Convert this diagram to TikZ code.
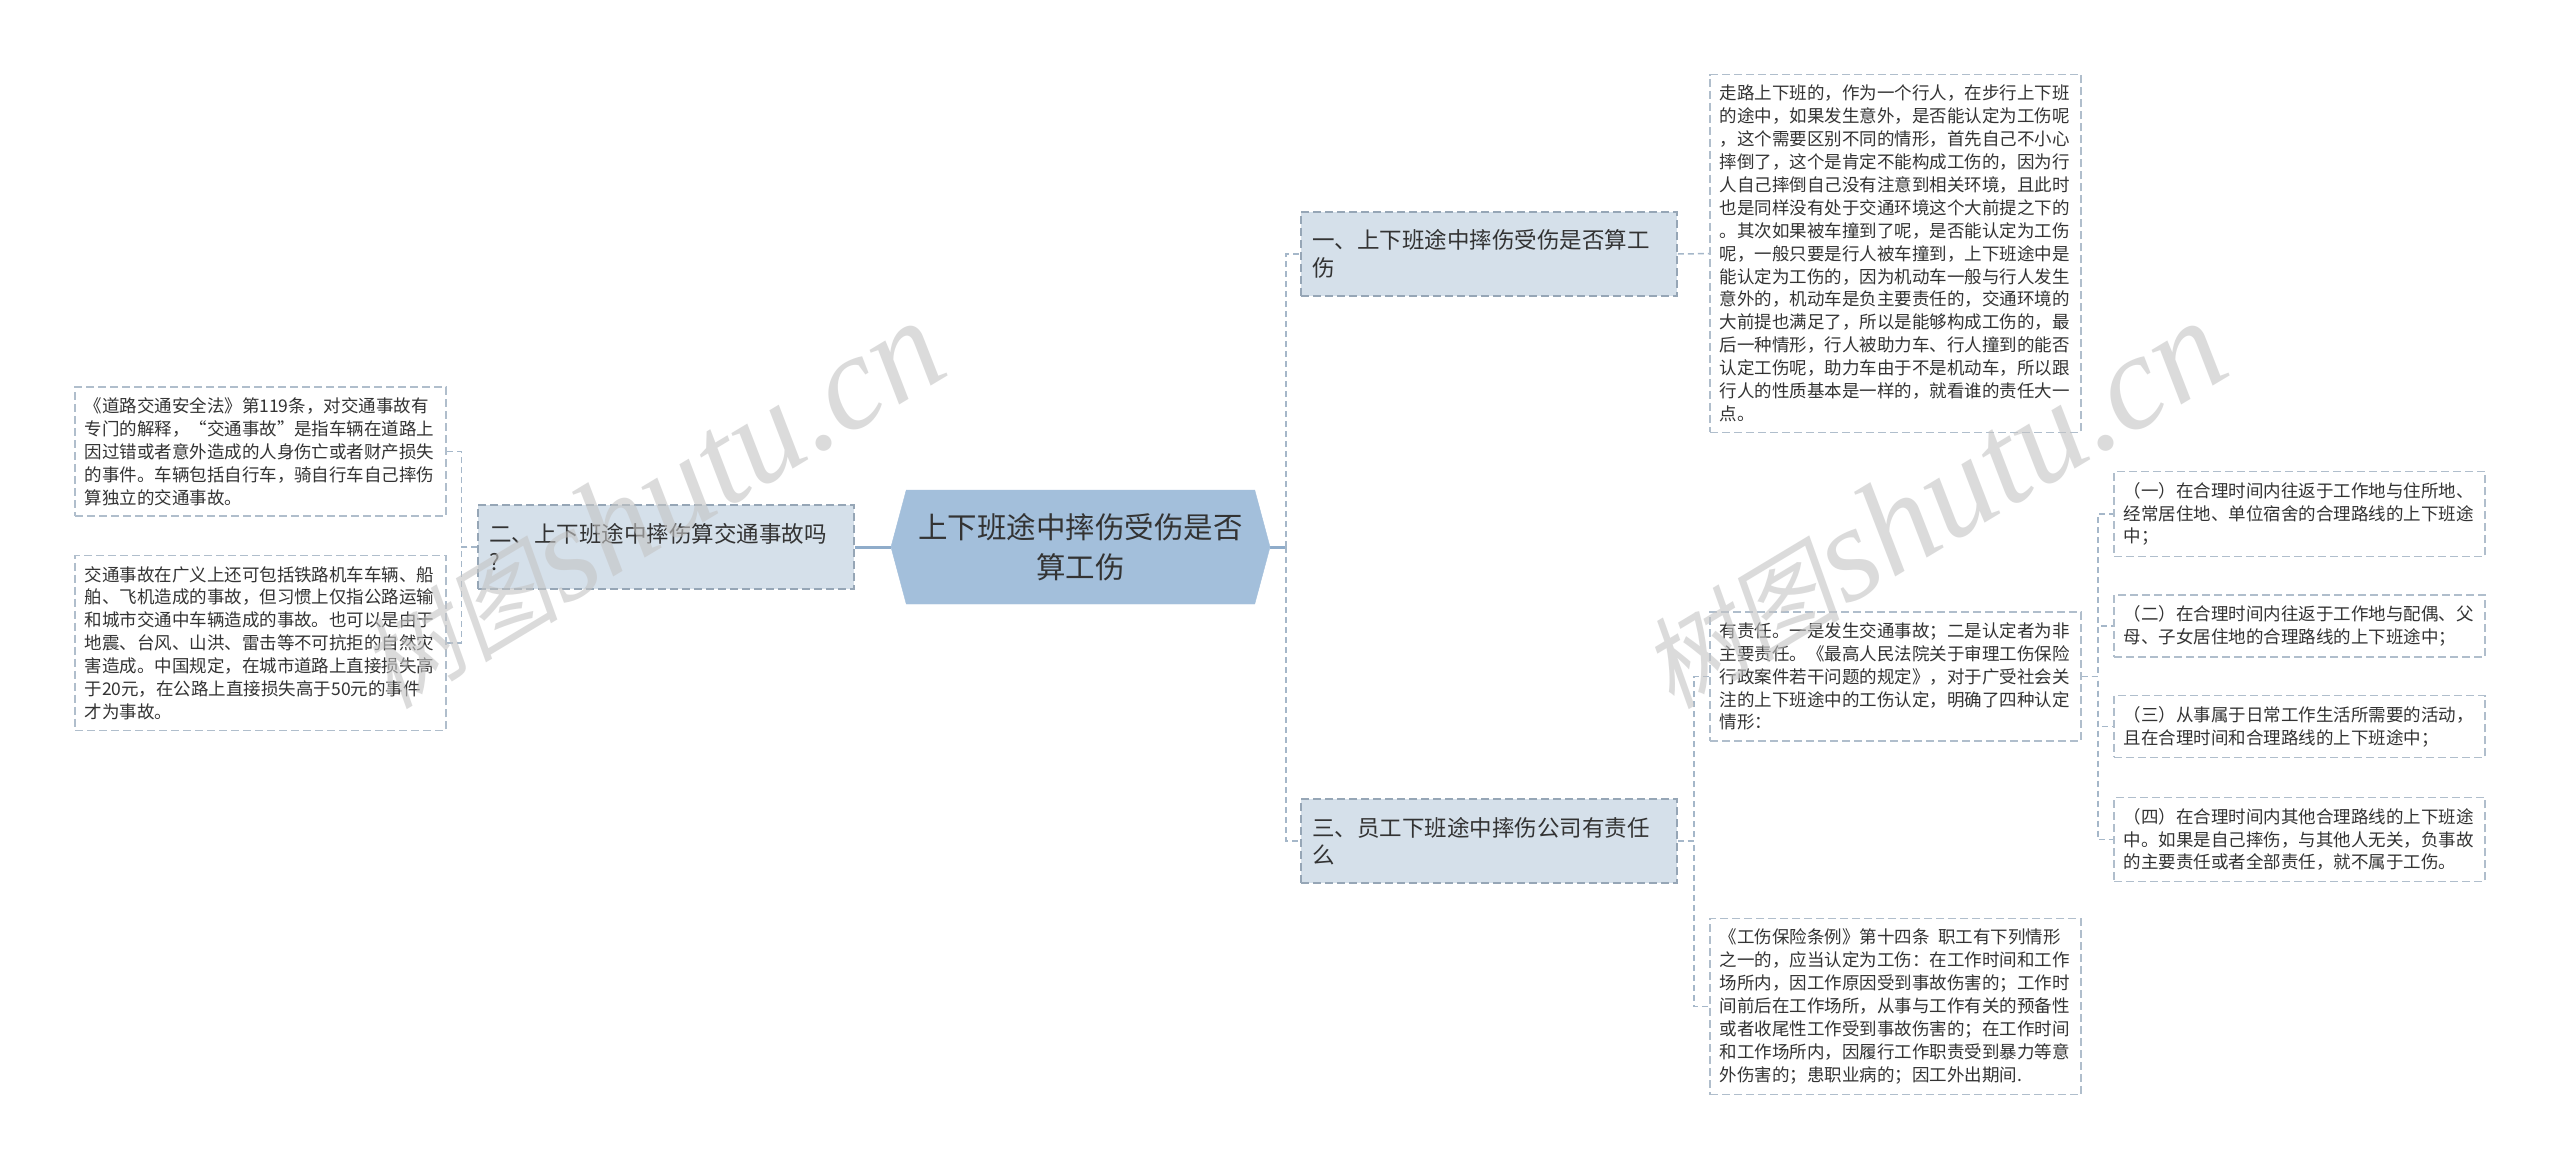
\documentclass[tikz,border=0pt]{standalone}
\usepackage{fontspec}
\setmainfont{Noto Sans CJK SC}
\newfontfamily\wmcjk[FakeSlant=0.2]{Noto Sans CJK SC}
\newfontfamily\wmlatin{Liberation Serif}
\usetikzlibrary{shapes.symbols}
\pgfdeclarelayer{edgelayer}
\pgfdeclarelayer{nodelayer}
\pgfsetlayers{edgelayer,nodelayer,main}
\definecolor{rootblue}{RGB}{163,191,219}
\definecolor{branchfill}{RGB}{213,224,234}
\definecolor{branchline}{RGB}{150,166,182}
\definecolor{leafline}{RGB}{176,190,204}
\definecolor{trunkblue}{RGB}{143,172,202}
\definecolor{linkgray}{RGB}{165,183,201}
\definecolor{textgray}{RGB}{51,51,51}
\definecolor{wmgray}{RGB}{196,196,196}
\tikzstyle{root}=[signal,signal to=west and east,signal pointer angle=150,fill=rootblue,draw=rootblue,minimum width=379pt,minimum height=114pt,align=center,text=textgray,font=\fontsize{29.5}{40}\selectfont]
\tikzstyle{branch}=[rectangle,fill=branchfill,draw=branchline,line width=1.5pt,dash pattern=on 8pt off 4pt,text width=354pt,inner xsep=11pt,minimum height=84pt,align=left,text=textgray,font=\fontsize{22.5}{27.5}\selectfont]
\tikzstyle{leaf}=[rectangle,fill=white,draw=leafline,line width=1.5pt,dash pattern=on 8pt off 4pt,text width=352pt,inner xsep=9.5pt,inner ysep=10.5pt,align=left,text=textgray,font=\fontsize{17.5}{22.9}\selectfont]
\tikzstyle{trunk}=[draw=trunkblue,line width=3pt]
\tikzstyle{link}=[draw=linkgray,line width=1.5pt,dash pattern=on 6pt off 4pt]
\tikzstyle{watermark}=[text=wmgray,opacity=0.6,rotate=31,inner sep=0pt]

\begin{document}
\begin{tikzpicture}[x=100pt,y=100pt]
	\useasboundingbox (0,0) rectangle (25.60,-11.71);
	\begin{pgfonlayer}{nodelayer}
		\node [style=root] (0) at (10.805, -5.47) {上下班途中摔伤受伤是否\\算工伤};
		\node [style=branch] (1) at (6.66, -5.47) {二、上下班途中摔伤算交通事故吗\\?};
		\node [style=branch] (2) at (14.89, -2.54) {一、上下班途中摔伤受伤是否算工\\伤};
		\node [style=branch] (3) at (14.89, -8.41) {三、员工下班途中摔伤公司有责任\\么};
		\node [style=leaf] (4) at (2.605, -4.515) {《道路交通安全法》第119条，对交通事故有\\专门的解释，“交通事故”是指车辆在道路上\\因过错或者意外造成的人身伤亡或者财产损失\\的事件。车辆包括自行车，骑自行车自己摔伤\\算独立的交通事故。};
		\node [style=leaf] (5) at (2.605, -6.43) {交通事故在广义上还可包括铁路机车车辆、船\\舶、飞机造成的事故，但习惯上仅指公路运输\\和城市交通中车辆造成的事故。也可以是由于\\地震、台风、山洪、雷击等不可抗拒的自然灾\\害造成。中国规定，在城市道路上直接损失高\\于20元，在公路上直接损失高于50元的事件\\才为事故。};
		\node [style=leaf] (6) at (18.955, -2.535) {走路上下班的，作为一个行人，在步行上下班\\的途中，如果发生意外，是否能认定为工伤呢\\，这个需要区别不同的情形，首先自己不小心\\摔倒了，这个是肯定不能构成工伤的，因为行\\人自己摔倒自己没有注意到相关环境，且此时\\也是同样没有处于交通环境这个大前提之下的\\。其次如果被车撞到了呢，是否能认定为工伤\\呢，一般只要是行人被车撞到，上下班途中是\\能认定为工伤的，因为机动车一般与行人发生\\意外的，机动车是负主要责任的，交通环境的\\大前提也满足了，所以是能够构成工伤的，最\\后一种情形，行人被助力车、行人撞到的能否\\认定工伤呢，助力车由于不是机动车，所以跟\\行人的性质基本是一样的，就看谁的责任大一\\点。};
		\node [style=leaf] (7) at (18.955, -6.765) {有责任。一是发生交通事故；二是认定者为非\\主要责任。《最高人民法院关于审理工伤保险\\行政案件若干问题的规定》，对于广受社会关\\注的上下班途中的工伤认定，明确了四种认定\\情形：};
		\node [style=leaf] (8) at (18.955, -10.065) {《工伤保险条例》第十四条\hspace{0.5em}职工有下列情形\\之一的，应当认定为工伤：在工作时间和工作\\场所内，因工作原因受到事故伤害的；工作时\\间前后在工作场所，从事与工作有关的预备性\\或者收尾性工作受到事故伤害的；在工作时间\\和工作场所内，因履行工作职责受到暴力等意\\外伤害的；患职业病的；因工外出期间.};
		\node [style=leaf] (9) at (22.995, -5.14) {（一）在合理时间内往返于工作地与住所地、\\经常居住地、单位宿舍的合理路线的上下班途\\中；};
		\node [style=leaf] (10) at (22.995, -6.26) {（二）在合理时间内往返于工作地与配偶、父\\母、子女居住地的合理路线的上下班途中；};
		\node [style=leaf] (11) at (22.995, -7.265) {（三）从事属于日常工作生活所需要的活动，\\且在合理时间和合理路线的上下班途中；};
		\node [style=leaf] (12) at (22.995, -8.395) {（四）在合理时间内其他合理路线的上下班途\\中。如果是自己摔伤，与其他人无关，负事故\\的主要责任或者全部责任，就不属于工伤。};
	\end{pgfonlayer}
	\begin{pgfonlayer}{edgelayer}
		\fill [white] (0,0) rectangle (25.60,-11.71);
		\draw [style=trunk] (0.west) to (1.east);
		\draw [style=trunk] (0.east) to ++(0.16,0);
		\draw [style=link] ([xshift=16pt]0.east) |- (2.west);
		\draw [style=link] ([xshift=16pt]0.east) |- (3.west);
		\draw [style=link] (1.west) -- ++(-0.16,0) |- (4.east);
		\draw [style=link] (1.west) -- ++(-0.16,0) |- (5.east);
		\draw [style=link] (2.east) to (6.west);
		\draw [style=link] (3.east) -- ++(0.16,0) |- (7.west);
		\draw [style=link] (3.east) -- ++(0.16,0) |- (8.west);
		\draw [style=link] (7.east) -- ++(0.16,0) |- (9.west);
		\draw [style=link] (7.east) -- ++(0.16,0) |- (10.west);
		\draw [style=link] (7.east) -- ++(0.16,0) |- (11.west);
		\draw [style=link] (7.east) -- ++(0.16,0) |- (12.west);
	\end{pgfonlayer}
	% watermarks
	\node [style=watermark] (w0) at (6.50, -5.05) {{\wmcjk\fontsize{100}{100}\selectfont 树图} {\wmlatin\itshape\fontsize{135}{135}\selectfont shutu.cn}};
	\node [style=watermark] (w1) at (19.32, -5.05) {{\wmcjk\fontsize{100}{100}\selectfont 树图} {\wmlatin\itshape\fontsize{135}{135}\selectfont shutu.cn}};
\end{tikzpicture}
\end{document}
